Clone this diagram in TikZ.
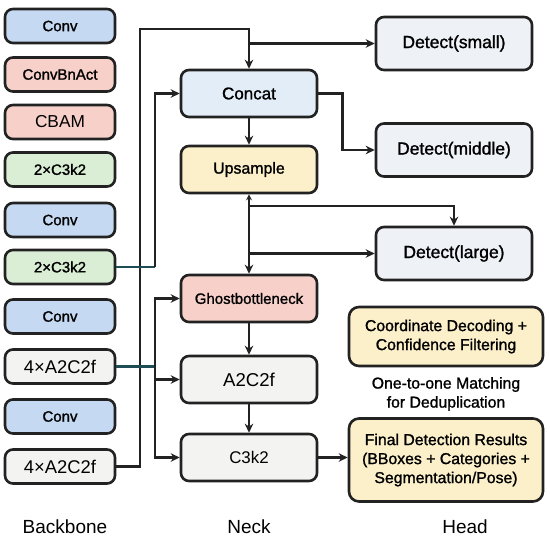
\documentclass[tikz,border=0pt]{standalone}
\usepackage{fontspec}
\setmainfont{Liberation Sans}
\newfontfamily\medfont{Liberation Sans}[FakeBold=1.3]
\usetikzlibrary{shapes,arrows,arrows.meta,positioning,calc}
\definecolor{cline}{HTML}{222222}
\definecolor{cteal}{HTML}{1E4D55}
\definecolor{cblue}{HTML}{C6D9F2}
\definecolor{cpink}{HTML}{F7D1C9}
\definecolor{cgreen}{HTML}{DAEED5}
\definecolor{cgrey}{HTML}{F3F3F2}
\definecolor{cconcat}{HTML}{E2EDF8}
\definecolor{cyellow}{HTML}{FBF0CA}
\definecolor{cdetect}{HTML}{EEF2F6}

\begin{document}
\begin{tikzpicture}[x=1pt, y=-1pt,
      box/.style={draw=cline, line width=2.6pt, rounded corners=8pt, minimum width=110pt, minimum height=34pt, inner sep=0pt, align=center, font=\medfont\fontsize{15}{18}\selectfont},
      nbox/.style={box, minimum width=136pt, minimum height=47pt},
      hbox/.style={box, minimum width=156pt, minimum height=53pt, font=\medfont\fontsize{17.5}{20}\selectfont},
      arr/.style={->, line width=2.6pt, draw=cline, >={Stealth[length=9pt,width=8.5pt]}},
      clink/.style={line width=2.6pt, draw=cteal},
      lbl/.style={font=\fontsize{19}{22}\selectfont}
    ]
    \useasboundingbox (0,0) rectangle (550,539);
    % backbone
    \node[box, fill=cblue] (b1) at (60,26) {Conv};
    \node[box, fill=cpink] (b2) at (60,74.5) {ConvBnAct};
    \node[box, fill=cpink, font=\fontsize{17.3}{20}\selectfont] (b3) at (60,122) {CBAM};
    \node[box, fill=cgreen] (b4) at (60,169.5) {2×C3k2};
    \node[box, fill=cblue] (b5) at (60,220) {Conv};
    \node[box, fill=cgreen] (b6) at (60,267) {2×C3k2};
    \node[box, fill=cblue] (b7) at (60,316.5) {Conv};
    \node[box, fill=cgrey, font=\fontsize{18.4}{21}\selectfont] (b8) at (60,366.5) {4×A2C2f};
    \node[box, fill=cblue] (b9) at (60,416.5) {Conv};
    \node[box, fill=cgrey, font=\fontsize{18.4}{21}\selectfont] (b10) at (60,466.5) {4×A2C2f};
    % neck
    \node[nbox, fill=cconcat, font=\medfont\fontsize{17}{20}\selectfont] (n1) at (249,93.5) {Concat};
    \node[nbox, fill=cyellow, font=\medfont\fontsize{15.9}{19}\selectfont] (n2) at (249,169.5) {Upsample};
    \node[nbox, fill=cpink] (n3) at (249,298.5) {Ghostbottleneck};
    \node[nbox, fill=cgrey, font=\fontsize{18.6}{21}\selectfont] (n4) at (249,379.5) {A2C2f};
    \node[nbox, fill=cgrey, font=\fontsize{16.9}{20}\selectfont] (n5) at (249,457.5) {C3k2};
    % head
    \node[hbox, fill=cdetect] (h1) at (454,43.5) {Detect(small)};
    \node[hbox, fill=cdetect] (h2) at (454,150) {Detect(middle)};
    \node[hbox, fill=cdetect] (h3) at (454,253.5) {Detect(large)};
    \node[box, fill=cyellow, minimum width=194pt, minimum height=59pt, rounded corners=10pt, font=\medfont\fontsize{15.8}{19}\selectfont] (h4) at (446,336.5) {Coordinate Decoding +\\Confidence Filtering};
    \node[font=\medfont\fontsize{15.8}{19}\selectfont, align=center] (h5) at (446,394) {One-to-one Matching\\for Deduplication};
    \node[box, fill=cyellow, minimum width=194pt, minimum height=83pt, rounded corners=10pt, font=\medfont\fontsize{15.8}{19}\selectfont] (h6) at (446,460) {Final Detection Results\\(BBoxes + Categories +\\Segmentation/Pose)};
    % column titles
    \node[lbl] (t1) at (65,527) {Backbone};
    \node[lbl] (t2) at (249,527) {Neck};
    \node[lbl] (t3) at (465,527) {Head};
    % junctions
    \coordinate (j1) at (140,29);
    \coordinate (j2) at (155,267);
    \coordinate (j3) at (155,366.5);
    \coordinate (s1) at (249,43.5);
    \coordinate (s2) at (249,206);
    \coordinate (s3) at (249,253.5);
    % links
    \draw[arr] (b10.east) -| (j1) -| (n1.north);
    \draw[arr] (s1) -- (h1.west);
    \draw[clink] (b6.east) -- (j2);
    \draw[arr] (j2) |- (n1.west);
    \draw[clink] (b8.east) -- (j3);
    \draw[arr] (j3) |- (n3.west);
    \draw[arr] (j3) |- (n4.west);
    \draw[arr] (j3) |- (n5.west);
    \draw[arr] (n1) -- (n2);
    \draw[arr] (n1.east) -- ++(24,0) |- (h2.west);
    \draw[arr, {Stealth[length=6pt,width=6pt]}-{Stealth[length=9pt,width=8.5pt]}] (n2) -- (n3);
    \draw[arr] (s2) -| (h3.north);
    \draw[arr] (s3) -- (h3.west);
    \draw[arr] (n3) -- (n4);
    \draw[arr] (n4) -- (n5);
    \draw[arr] (n5) -- (n5 -| h6.west);
  \end{tikzpicture}
\end{document}
